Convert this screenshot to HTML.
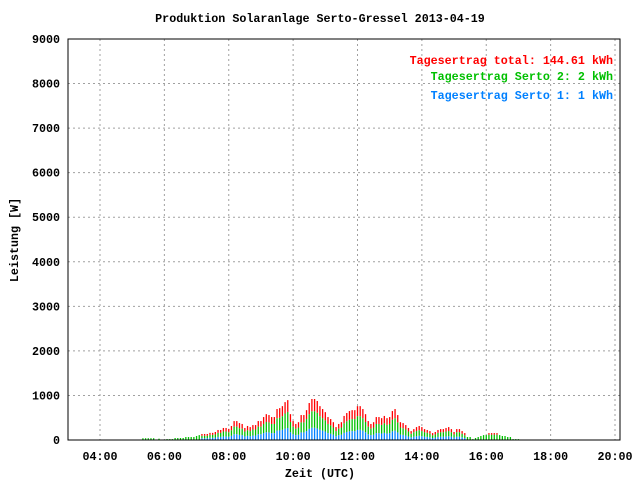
<!DOCTYPE html>
<html><head><meta charset="utf-8"><style>
html,body{margin:0;padding:0;background:#fff}
svg text{font-family:"Liberation Mono",monospace;font-weight:bold;font-size:11.7px}
</style></head><body>
<svg id="chart" width="640" height="480" xmlns="http://www.w3.org/2000/svg">
<rect width="640" height="480" fill="#fff"/>
<text x="320" y="22" text-anchor="middle">Produktion Solaranlage Serto-Gressel 2013-04-19</text>
<g id="grid"></g>
<g id="bars"></g>
<rect x="68" y="39" width="552" height="401" fill="none" stroke="#000" stroke-width="1"/>
<g id="yticks"></g>
<g id="xticks"></g>
<text x="320" y="477" text-anchor="middle">Zeit (UTC)</text>
<text transform="translate(18,240) rotate(-90)" text-anchor="middle">Leistung [W]</text>
<text x="613" y="64" text-anchor="end" fill="#ff0000">Tagesertrag total: 144.61 kWh</text>
<text x="613" y="80" text-anchor="end" fill="#00c000">Tagesertrag Serto 2: 2 kWh</text>
<text x="613" y="99" text-anchor="end" fill="#0080ff">Tagesertrag Serto 1: 1 kWh</text>
</svg>
<script>
const yTicks=[0,1000,2000,3000,4000,5000,6000,7000,8000,9000];
const xTickLabels=["04:00","06:00","08:00","10:00","12:00","14:00","16:00","18:00","20:00"];
const xTickHours=[4,6,8,10,12,14,16,18,20];
const startHour=5+20/60, stepHour=5/60;
const total=[40,40,40,40,40,0,30,0,0,20,
20,20,45,45,45,45,67,67,67,67,
90,110,135,135,135,160,160,180,225,225,
270,270,250,315,425,425,380,360,270,315,
290,335,335,425,425,515,580,560,515,515,
695,715,760,850,895,580,425,360,400,560,
560,670,830,920,920,875,760,695,625,515,
470,400,290,360,400,540,605,650,670,670,
760,760,695,580,425,360,400,515,515,490,
540,490,515,650,695,560,400,380,335,270,
200,245,290,315,290,245,225,200,155,180,
225,245,245,270,290,245,180,245,245,200,
155,67,67,20,45,67,90,110,110,155,
155,155,155,110,90,90,67,67,20,20,
20];
const serto1=[0,0,0,0,0,0,0,0,0,0,
0,0,0,0,0,0,0,0,0,0,
0,0,40,40,40,50,50,55,70,70,
80,80,75,95,130,130,115,110,80,95,
85,100,100,130,130,155,175,170,155,155,
210,215,230,255,270,175,130,110,120,170,
170,200,250,275,275,260,230,210,190,155,
140,120,85,110,120,160,180,195,200,200,
230,230,210,175,130,110,120,155,155,145,
160,145,155,195,210,170,120,115,100,80,
60,75,85,95,85,75,70,60,45,55,
70,75,75,80,85,75,55,75,75,60,
45,0,0,0,0,0,0,0,0,0,
0,0,0,0,0,0,0,0,0,0,
0];
const serto2=[40,40,40,40,40,0,30,0,0,20,
20,20,45,45,45,45,67,67,67,67,
90,110,55,55,55,65,65,70,90,90,
110,110,100,125,170,170,150,145,110,125,
115,135,135,170,170,205,230,225,205,205,
280,285,305,340,360,230,170,145,160,225,
225,270,330,370,370,350,305,280,250,205,
190,160,115,145,160,215,240,260,270,270,
305,305,280,230,170,145,160,205,205,195,
215,195,205,260,280,225,160,150,135,110,
80,100,115,125,115,100,90,80,60,70,
90,100,100,110,115,100,70,100,100,80,
60,67,67,20,45,67,90,110,110,120,
120,120,120,110,90,90,67,67,20,20,
20];
const NS='http://www.w3.org/2000/svg';
const X0=68,X1=620,Y0=440,Y1=39;
function xs(h){return 100+(h-4)*(515/16);}
function ys(v){return Y0-v*(Y0-Y1)/9000;}
function mk(tag,attrs,parent){const e=document.createElementNS(NS,tag);for(const k in attrs)e.setAttribute(k,attrs[k]);parent.appendChild(e);return e;}
const grid=document.getElementById('grid'),yt=document.getElementById('yticks'),xt=document.getElementById('xticks'),bars=document.getElementById('bars');
yTicks.forEach(v=>{
  const y=ys(v);
  if(v>0&&v<9000){const l=mk('line',{x1:X0,x2:X1,y1:y,y2:y,stroke:'#a0a0a0','stroke-dasharray':'2,3'},grid);
  
  }
  const t=mk('text',{x:60,y:y+4,'text-anchor':'end'},yt);t.textContent=v;
  
  
});
xTickHours.forEach((h,i)=>{
  const x=xs(h);
  const l=mk('line',{x1:x,x2:x,y1:Y1,y2:Y0,stroke:'#a0a0a0','stroke-dasharray':'2,3'},grid);
  
  
  const t=mk('text',{x:x,y:460,'text-anchor':'middle'},xt);t.textContent=xTickLabels[i];
  
  
});
total.forEach((tv,i)=>{
  const x=xs(startHour+i*stepHour)-0.65;
  const b=serto1[i],g=serto2[i];
  const segs=[[0,b,'#0080ff','bar-serto-1'],[b,b+g,'#00c000','bar-serto-2'],[b+g,tv,'#ff0000','bar-rest']];
  segs.forEach(s=>{
    if(s[1]<=s[0])return;
    const r=mk('rect',{x:x,width:1.3,y:ys(s[1]),height:ys(s[0])-ys(s[1]),fill:s[2]},bars);
    
    
  });
});
</script>
</body></html>
